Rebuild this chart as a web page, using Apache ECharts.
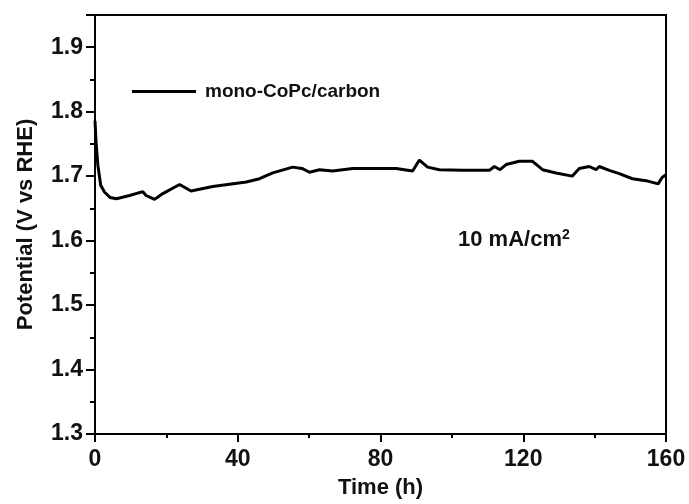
<!DOCTYPE html>
<html><head><meta charset="utf-8">
<script src="https://cdn.jsdelivr.net/npm/echarts@6/dist/echarts.min.js"></script>
<style>html,body{margin:0;padding:0;background:#fff}#c{width:689px;height:504px}</style>
</head><body><div id="c"></div>
<script>
var seriesName = 'mono-CoPc/carbon';
var timeH = [0, 0.3, 0.8, 1.6, 2.7, 4.2, 6, 9.7, 13.4, 14.3, 16.7, 19, 23.7, 26.9, 33, 42.4, 46.1, 49.8, 55.4, 58, 60.1, 62.9, 66.6, 72.2, 79.7, 84.4, 89, 90.9, 93.2, 96.5, 103, 110.5, 111.9, 113.5, 115.2, 118.9, 122.6, 125.4, 129.2, 133.7, 135.7, 138.5, 140.4, 141.3, 144.1, 146.9, 150.6, 154.4, 157.8, 158.9, 160];
var potential = [1.786, 1.753, 1.717, 1.686, 1.675, 1.667, 1.665, 1.670, 1.676, 1.670, 1.664, 1.673, 1.687, 1.677, 1.684, 1.691, 1.696, 1.705, 1.714, 1.712, 1.706, 1.710, 1.708, 1.712, 1.712, 1.712, 1.708, 1.725, 1.714, 1.710, 1.709, 1.709, 1.715, 1.710, 1.718, 1.723, 1.723, 1.710, 1.705, 1.700, 1.712, 1.715, 1.710, 1.715, 1.709, 1.704, 1.696, 1.693, 1.688, 1.698, 1.702];
var xTicks = [0, 40, 80, 120, 160];
var yTicks = [1.3, 1.4, 1.5, 1.6, 1.7, 1.8, 1.9];
var annotation = '10 mA/cm';

var data = timeH.map(function (t, i) { return [t, potential[i]]; });
var font = 'Liberation Sans, Arial, sans-serif';
var chart = echarts.init(document.getElementById('c'));
chart.setOption({
  backgroundColor: '#fff',
  animation: false,
  grid: { left: 95, right: 23, top: 15, bottom: 66.5, show: true, borderColor: '#000', borderWidth: 2, backgroundColor: 'transparent' },
  legend: {
    data: [{ name: seriesName, icon: 'rect' }], left: 132, top: 82, padding: 0, itemWidth: 64, itemHeight: 3,
    itemStyle: { color: '#000' },
    textStyle: { fontFamily: font, fontWeight: 'bold', fontSize: 19, color: '#111', padding: [0, 0, 0, 4] }
  },
  xAxis: {
    type: 'value', min: 0, max: 160, interval: 40,
    name: 'Time (h)', nameLocation: 'middle', nameGap: 43,
    nameTextStyle: { fontFamily: font, fontWeight: 'bold', fontSize: 22, color: '#111' },
    axisLine: { show: true, lineStyle: { color: '#000', width: 2 } },
    axisTick: { show: true, inside: false, length: 8, lineStyle: { color: '#000', width: 2 } },
    minorTick: { show: true, splitNumber: 2, length: 4, lineStyle: { color: '#000', width: 2 } },
    splitLine: { show: false },
    axisLabel: { fontFamily: font, fontWeight: 'bold', fontSize: 23, color: '#111', margin: 14,
      formatter: function (v) { return xTicks.indexOf(v) >= 0 ? String(v) : ''; } }
  },
  yAxis: {
    type: 'value', min: 1.3, max: 1.95, interval: 0.1,
    name: 'Potential (V vs RHE)', nameLocation: 'middle', nameGap: 58,
    nameTextStyle: { fontFamily: font, fontWeight: 'bold', fontSize: 22, color: '#111' },
    axisLine: { show: true, lineStyle: { color: '#000', width: 2 } },
    axisTick: { show: true, inside: false, length: 9, lineStyle: { color: '#000', width: 2 } },
    minorTick: { show: true, splitNumber: 2, length: 5, lineStyle: { color: '#000', width: 2 } },
    splitLine: { show: false },
    axisLabel: { fontFamily: font, fontWeight: 'bold', fontSize: 23, color: '#111', margin: 12,
      formatter: function (v) {
        var r = Math.round(v * 10) / 10;
        return (Math.abs(r - v) < 1e-6 && yTicks.indexOf(r) >= 0) ? r.toFixed(1) : '';
      } }
  },
  graphic: [{
    type: 'text', left: 458, top: 228,
    style: {
      text: annotation + '{sup|2}',
      font: 'bold 22px Liberation Sans, Arial, sans-serif', fill: '#111',
      rich: { sup: { fontFamily: font, fontWeight: 'bold', fontSize: 14, fill: '#111', verticalAlign: 'top', padding: [0, 0, 10, 0] } }
    }
  }],
  series: [{
    name: seriesName, type: 'line', data: data, symbol: 'none', smooth: false,
    lineStyle: { color: '#000', width: 3 }, itemStyle: { color: '#000' }
  }]
});
</script>
</body></html>
